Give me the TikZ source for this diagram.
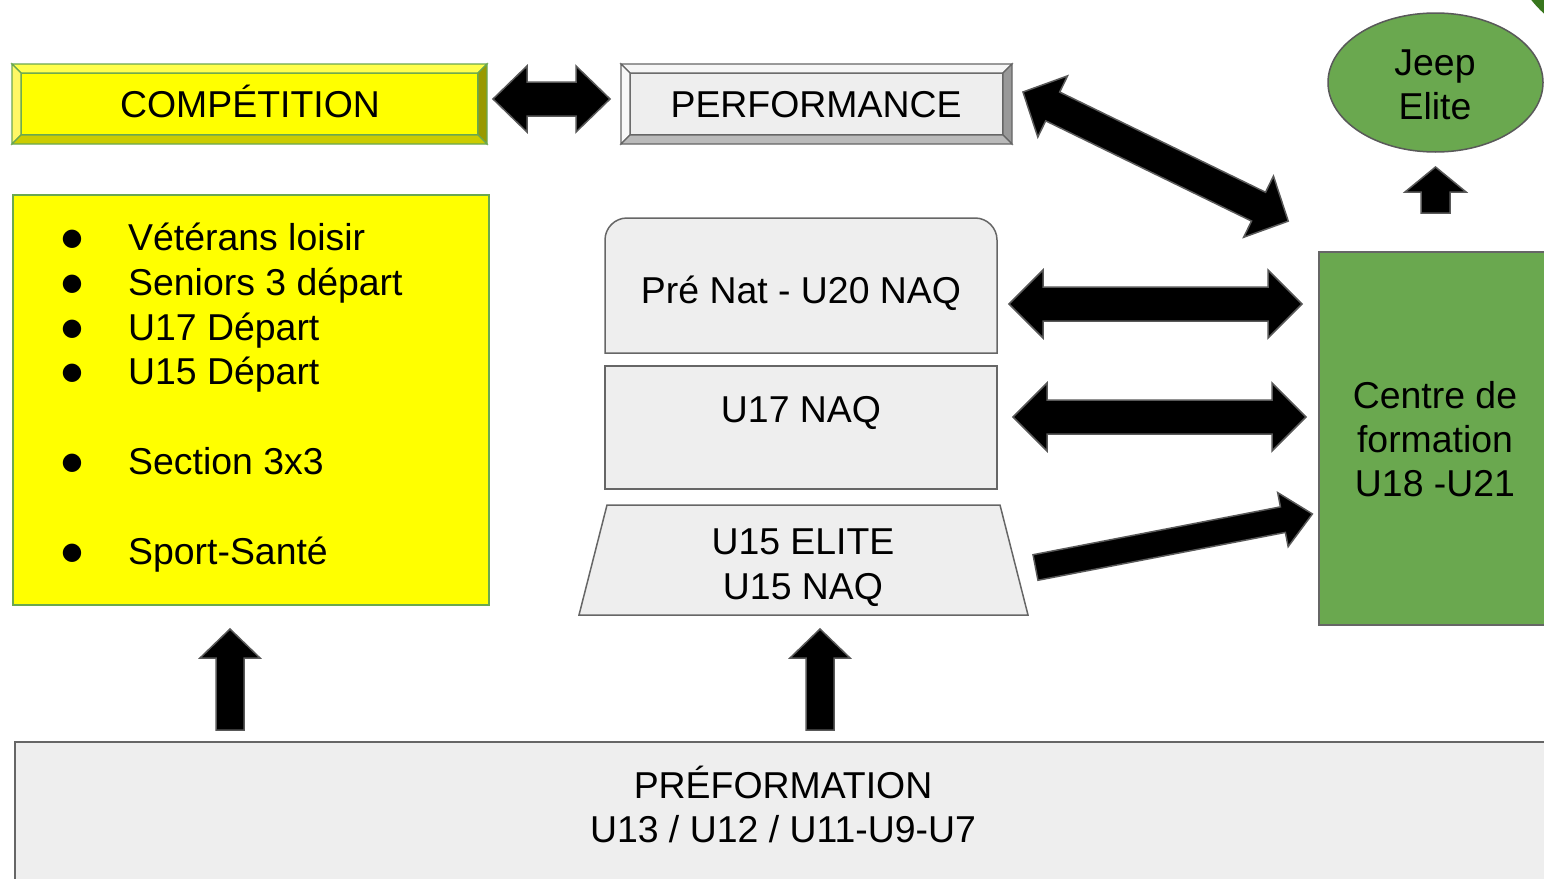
\documentclass[tikz,border=0pt]{standalone}
\usepackage{fontspec}
\setmainfont{Liberation Sans}
\newfontfamily\dejavu{DejaVu Sans}
\usetikzlibrary{shapes.geometric}
\definecolor{cgreen}{HTML}{6AA84F}
\definecolor{dgreen}{HTML}{38761D}
\definecolor{lgray}{HTML}{EEEEEE}
\definecolor{egray}{HTML}{666666}
\definecolor{agray}{HTML}{595959}
\definecolor{ylw}{HTML}{FFFF00}
% double block arrow: x,y of first tip, angle, length, shaft half, head half, head length
\newcommand\DblArrow[7]{\begin{scope}[shift={(#1,#2)},rotate=#3]
\draw[barrow] (0,0) -- (#7,#6) -- (#7,#5) -- ({#4-#7},#5) -- ({#4-#7},#6) -- (#4,0) -- ({#4-#7},-#6) -- ({#4-#7},-#5) -- (#7,-#5) -- (#7,-#6) -- cycle;
\end{scope}}
% single block arrow: x,y of tail centre, angle, length, shaft half, head half, head length
\newcommand\OneArrow[7]{\begin{scope}[shift={(#1,#2)},rotate=#3]
\draw[barrow] (0,#5) -- ({#4-#7},#5) -- ({#4-#7},#6) -- (#4,0) -- ({#4-#7},-#6) -- ({#4-#7},-#5) -- (0,-#5) -- cycle;
\end{scope}}
% bevel box: x1,y1,x2,y2,style prefix
\newcommand\Bevel[5]{%
\draw[#5face] (#1+9,#2+9) rectangle (#3-9,#4-9);
\draw[#5top] (#1,#2) -- (#3,#2) -- (#3-9,#2+9) -- (#1+9,#2+9) -- cycle;
\draw[#5left] (#1,#2) -- (#1+9,#2+9) -- (#1+9,#4-9) -- (#1,#4) -- cycle;
\draw[#5right] (#3,#2) -- (#3,#4) -- (#3-9,#4-9) -- (#3-9,#2+9) -- cycle;
\draw[#5bot] (#1,#4) -- (#3,#4) -- (#3-9,#4-9) -- (#1+9,#4-9) -- cycle;}
\begin{document}
\begin{tikzpicture}[x=1pt,y=-1pt,
  txt/.style={font=\fontsize{37.4}{44.5}\selectfont, text=black, inner sep=0pt},
  bul/.style={font=\dejavu\fontsize{24}{24}\selectfont, text=black, inner sep=0pt},
  barrow/.style={fill=black, draw=agray, line width=1.5pt, line join=miter},
  graybox/.style={draw=egray, fill=lgray, line width=1.5pt},
  cface/.style={fill=ylw, draw=cgreen, line width=1.2pt},
  ctop/.style={fill=ylw!70!white, draw=cgreen, line width=1.2pt},
  cleft/.style={fill=yellow!60!white, draw=cgreen, line width=1.2pt},
  cright/.style={fill=ylw!60!black, draw=cgreen, line width=1.2pt},
  cbot/.style={fill=ylw!80!black, draw=cgreen, line width=1.2pt},
  pface/.style={fill=lgray, draw=egray, line width=1.2pt},
  ptop/.style={fill=lgray!50!white, draw=egray, line width=1.2pt},
  pleft/.style={fill=lgray!40!white, draw=egray, line width=1.2pt},
  pright/.style={fill=black!40, draw=egray, line width=1.2pt},
  pbot/.style={fill=black!27, draw=egray, line width=1.2pt}]
\clip (0,0) rectangle (1544,878);
\useasboundingbox (0,0) rectangle (1544,878);
\fill[white] (0,0) rectangle (1544,878);

% corner decoration
\fill[dgreen] (1620,-70) circle[radius=113];

% COMPETITION bevel box
\Bevel{12}{64}{487}{144}{c}
\node[txt, anchor=base] (comp) at (250,117) {COMPÉTITION};
% PERFORMANCE bevel box
\Bevel{621}{64}{1012}{144}{p}
\node[txt, anchor=base] (perf) at (816,117) {PERFORMANCE};

% yellow list box
\node[draw=cgreen, fill=ylw, line width=1.5pt, anchor=north west, minimum width=476pt, minimum height=410pt, inner sep=0pt] (list) at (12,194) {};
\foreach \yy/\tt [count=\i] in {250/Vétérans loisir, 295/Seniors 3 départ, 340/U17 Départ, 384/U15 Départ, 474/Section 3x3, 564/Sport-Santé}{
  \node[bul] (b\i) at (72,\yy-11) {●};
  \node[txt, anchor=base west] (l\i) at (128,\yy) {\tt};
}

% Pre Nat box (rounded top corners)
\draw[graybox] (605,353) -- (605,240) arc[start angle=180, end angle=270, radius=22] -- (975,218) arc[start angle=270, end angle=360, radius=22] -- (997,353) -- cycle;
\node[txt, anchor=base] (prenat) at (801,303) {Pré Nat - U20 NAQ};
% U17 box
\draw[graybox] (605,366) rectangle (997,489);
\node[txt, anchor=base] (u17) at (801,422) {U17 NAQ};
% U15 trapezoid
\draw[graybox] (607,505) -- (1000,505) -- (1028,615) -- (579,615) -- cycle;
\node[txt, anchor=base] (u15a) at (803,554) {U15 ELITE};
\node[txt, anchor=base] (u15b) at (803,599) {U15 NAQ};

% Centre de formation
\draw[draw=egray, fill=cgreen, line width=1.5pt] (1319,252) rectangle (1580,625);
\node[txt, anchor=base] (cdf1) at (1435,408) {Centre de};
\node[txt, anchor=base] (cdf2) at (1435,452) {formation};
\node[txt, anchor=base] (cdf3) at (1435,496) {U18 -U21};

% Jeep Elite
\node[ellipse, draw=agray, fill=cgreen, line width=1.5pt, minimum width=215pt, minimum height=139pt, inner sep=0pt] (jeep) at (1435.5,82.5) {};
\node[txt, anchor=base] (jeep1) at (1435,75) {Jeep};
\node[txt, anchor=base] (jeep2) at (1435,119) {Elite};

% PREFORMATION
\draw[graybox] (15,742) rectangle (1580,900);
\node[txt, anchor=base] (pref1) at (783,798) {PRÉFORMATION};
\node[txt, anchor=base] (pref2) at (783,842) {U13 / U12 / U11-U9-U7};

% block arrows
\DblArrow{493}{99}{0}{117}{17}{33}{34}
\DblArrow{1023}{92}{-25.96}{295}{16}{34}{33}
\DblArrow{1009}{304}{0}{293}{17}{34}{34}
\DblArrow{1013}{417}{0}{293}{17}{34}{34}
\OneArrow{1035.5}{567.5}{10.95}{282}{13}{27.5}{30}
\OneArrow{230}{730}{90}{101}{14}{30}{29}
\OneArrow{820}{730}{90}{101}{14}{30}{29}
\OneArrow{1435.5}{213}{90}{46}{14.5}{30.5}{25}
\end{tikzpicture}
\end{document}
